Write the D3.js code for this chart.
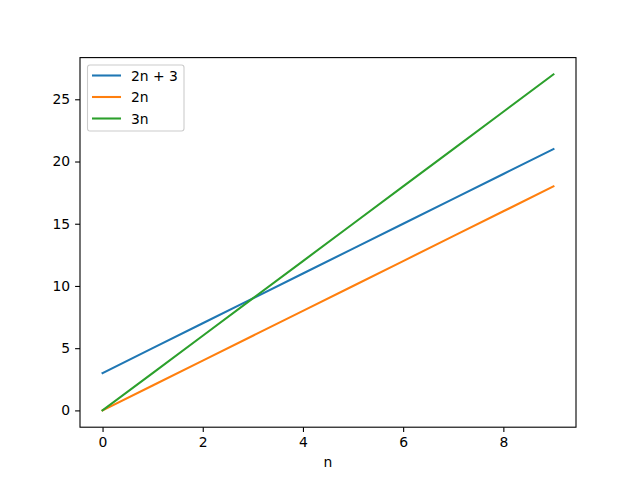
<!DOCTYPE html>
<html>
<head>
<meta charset="utf-8">
<script src="https://cdn.jsdelivr.net/npm/d3@7"></script>
<style>
  body { margin: 0; background: #fff; }
  text { font-family: "DejaVu Sans", sans-serif; }
</style>
</head>
<body>
<div id="chart"></div>
<script>
// data
const nValues = [0, 1, 2, 3, 4, 5, 6, 7, 8, 9];
const linear2n3 = [3, 5, 7, 9, 11, 13, 15, 17, 19, 21];
const linear2n = [0, 2, 4, 6, 8, 10, 12, 14, 16, 18];
const linear3n = [0, 3, 6, 9, 12, 15, 18, 21, 24, 27];
const seriesNames = ["2n + 3", "2n", "3n"];
const seriesColors = ["#1f77b4", "#ff7f0e", "#2ca02c"];
const xTicks = [0, 2, 4, 6, 8];
const yTicks = [0, 5, 10, 15, 20, 25];

const width = 640, height = 480;
const plotLeft = 80, plotRight = 576, plotTop = 57.6, plotBottom = 427.2;
const fontPx = 13.9;

const svg = d3.select("#chart")
  .append("svg")
  .attr("width", width)
  .attr("height", height);

const xScale = d3.scaleLinear().domain([-0.45, 9.45]).range([plotLeft, plotRight]);
const yScale = d3.scaleLinear().domain([-1.35, 28.35]).range([plotBottom, plotTop]);

const allSeries = [linear2n3, linear2n, linear3n];

const line = d3.line()
  .x((d, i) => xScale(nValues[i]))
  .y(d => yScale(d));

svg.selectAll("path.series")
  .data(allSeries)
  .enter()
  .append("path")
  .attr("class", "series")
  .attr("d", line)
  .attr("fill", "none")
  .attr("stroke", (d, i) => seriesColors[i])
  .attr("stroke-width", 2.08)
  .attr("stroke-linecap", "square");

// axes
const xAxis = d3.axisBottom(xScale).tickValues(xTicks).tickSize(4.9).tickPadding(4.9);
svg.append("g")
  .attr("transform", `translate(0,${plotBottom})`)
  .call(xAxis)
  .call(g => g.select(".domain").remove());

const yAxis = d3.axisLeft(yScale).tickValues(yTicks).tickSize(4.9).tickPadding(4.9);
svg.append("g")
  .attr("transform", `translate(${plotLeft},0)`)
  .call(yAxis)
  .call(g => g.select(".domain").remove());

svg.selectAll(".tick text")
  .attr("font-size", fontPx)
  .attr("font-family", "DejaVu Sans, sans-serif")
  .attr("fill", "#000");
svg.selectAll(".tick line").attr("stroke", "#000").attr("stroke-width", 1.1);

// frame
svg.append("rect")
  .attr("x", plotLeft)
  .attr("y", plotTop)
  .attr("width", plotRight - plotLeft)
  .attr("height", plotBottom - plotTop)
  .attr("fill", "none")
  .attr("stroke", "#000")
  .attr("stroke-width", 1.1);

svg.append("text")
  .attr("x", (plotLeft + plotRight) / 2)
  .attr("y", 467)
  .attr("text-anchor", "middle")
  .attr("font-size", fontPx)
  .text("n");

// legend
const legend = svg.append("g").attr("transform", "translate(87.5,65)");
legend.append("rect")
  .attr("width", 96.5)
  .attr("height", 66)
  .attr("rx", 2.5)
  .attr("fill", "#fff")
  .attr("fill-opacity", 0.8)
  .attr("stroke", "#cccccc")
  .attr("stroke-width", 1.1);

const items = legend.selectAll("g.item")
  .data(seriesNames)
  .enter()
  .append("g")
  .attr("transform", (d, i) => `translate(0,${10.5 + i * 21.5})`);

items.append("line")
  .attr("x1", 4.5).attr("x2", 33.5)
  .attr("stroke", (d, i) => seriesColors[i])
  .attr("stroke-width", 2.08);

items.append("text")
  .attr("x", 43.5)
  .attr("y", 5)
  .attr("font-size", fontPx)
  .text(d => d);
</script>
</body>
</html>
